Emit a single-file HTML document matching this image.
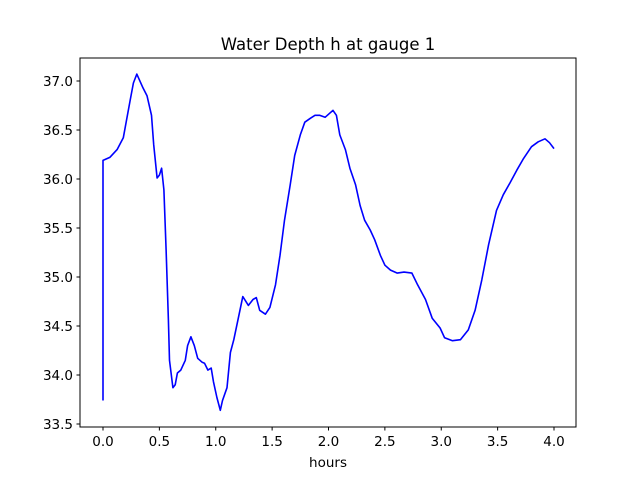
<!DOCTYPE html>
<html><head><meta charset="utf-8"><style>
body{margin:0;background:#fff}
svg text{font-family:"DejaVu Sans","Liberation Sans",sans-serif;fill:#000}
</style></head><body>
<svg id="chart" width="640" height="480" xmlns="http://www.w3.org/2000/svg"></svg>
<script>
const hours=[0,0,0.06,0.125,0.18,0.24,0.27,0.30,0.355,0.39,0.43,0.45,0.48,0.50,0.52,0.54,0.56,0.58,0.59,0.62,0.64,0.66,0.69,0.73,0.75,0.78,0.81,0.84,0.88,0.90,0.93,0.96,0.98,1.01,1.04,1.06,1.10,1.13,1.16,1.20,1.24,1.29,1.33,1.36,1.39,1.44,1.48,1.53,1.57,1.61,1.66,1.70,1.75,1.79,1.84,1.88,1.92,1.97,2.01,2.04,2.07,2.10,2.15,2.19,2.24,2.28,2.32,2.37,2.41,2.46,2.50,2.55,2.61,2.67,2.74,2.79,2.86,2.92,2.99,3.03,3.10,3.17,3.24,3.30,3.36,3.42,3.49,3.55,3.61,3.67,3.73,3.80,3.86,3.92,3.96,4.0];
const depth=[33.74,36.19,36.22,36.30,36.42,36.80,36.98,37.07,36.93,36.85,36.65,36.35,36.01,36.04,36.11,35.89,35.28,34.56,34.15,33.87,33.90,34.02,34.05,34.15,34.30,34.39,34.30,34.17,34.13,34.12,34.05,34.07,33.93,33.77,33.64,33.74,33.87,34.23,34.36,34.58,34.80,34.71,34.77,34.79,34.66,34.62,34.69,34.92,35.22,35.58,35.94,36.24,36.45,36.58,36.62,36.65,36.65,36.63,36.67,36.70,36.65,36.45,36.30,36.11,35.94,35.73,35.58,35.48,35.38,35.22,35.12,35.07,35.04,35.05,35.04,34.92,34.77,34.58,34.48,34.38,34.35,34.36,34.46,34.66,34.97,35.33,35.68,35.84,35.96,36.09,36.21,36.33,36.38,36.41,36.37,36.31];
const xTicks=[0.0,0.5,1.0,1.5,2.0,2.5,3.0,3.5,4.0];
const yTicks=[33.5,34.0,34.5,35.0,35.5,36.0,36.5,37.0];
const L=80,R=576,T=58,B=427;
const xs=v=>103+v*(554-103)/4;
const ys=v=>81+(37-v)*(424-81)/3.5;
const svg=document.getElementById('chart');
const NS='http://www.w3.org/2000/svg';
function mk(tag,attrs,parent){const e=document.createElementNS(NS,tag);for(const k in attrs)e.setAttribute(k,attrs[k]);(parent||svg).appendChild(e);return e;}
const frame=mk('rect',{x:L,y:T,width:R-L,height:B-T,fill:'none',stroke:'#000','stroke-width':1});


const pts=hours.map((h,i)=>xs(h).toFixed(1)+','+ys(depth[i]).toFixed(1)).join(' ');
const line=mk('polyline',{points:pts,fill:'none',stroke:'#0000ff','stroke-width':1.6,'stroke-linejoin':'round'});


xTicks.forEach(t=>{
  const x=xs(t);
  const tk=mk('line',{x1:x,y1:B,x2:x,y2:B+3.5,stroke:'#000'});
  
  
  const lb=mk('text',{x:x,y:B+19,'font-size':13.5,'text-anchor':'middle'});
  lb.textContent=t.toFixed(1);
  
  
});
yTicks.forEach(t=>{
  const y=ys(t);
  const tk=mk('line',{x1:L-3.5,y1:y,x2:L,y2:y,stroke:'#000'});
  
  
  const lb=mk('text',{x:L-7,y:y+5,'font-size':13.5,'text-anchor':'end'});
  lb.textContent=t.toFixed(1);
  
  
});
const xt=mk('text',{x:(L+R)/2,y:467,'font-size':13.5,'text-anchor':'middle'});
xt.textContent='hours';


const tt=mk('text',{x:(L+R)/2,y:50,'font-size':16.5,'text-anchor':'middle'});
tt.textContent='Water Depth h at gauge 1';


</script>
</body></html>
